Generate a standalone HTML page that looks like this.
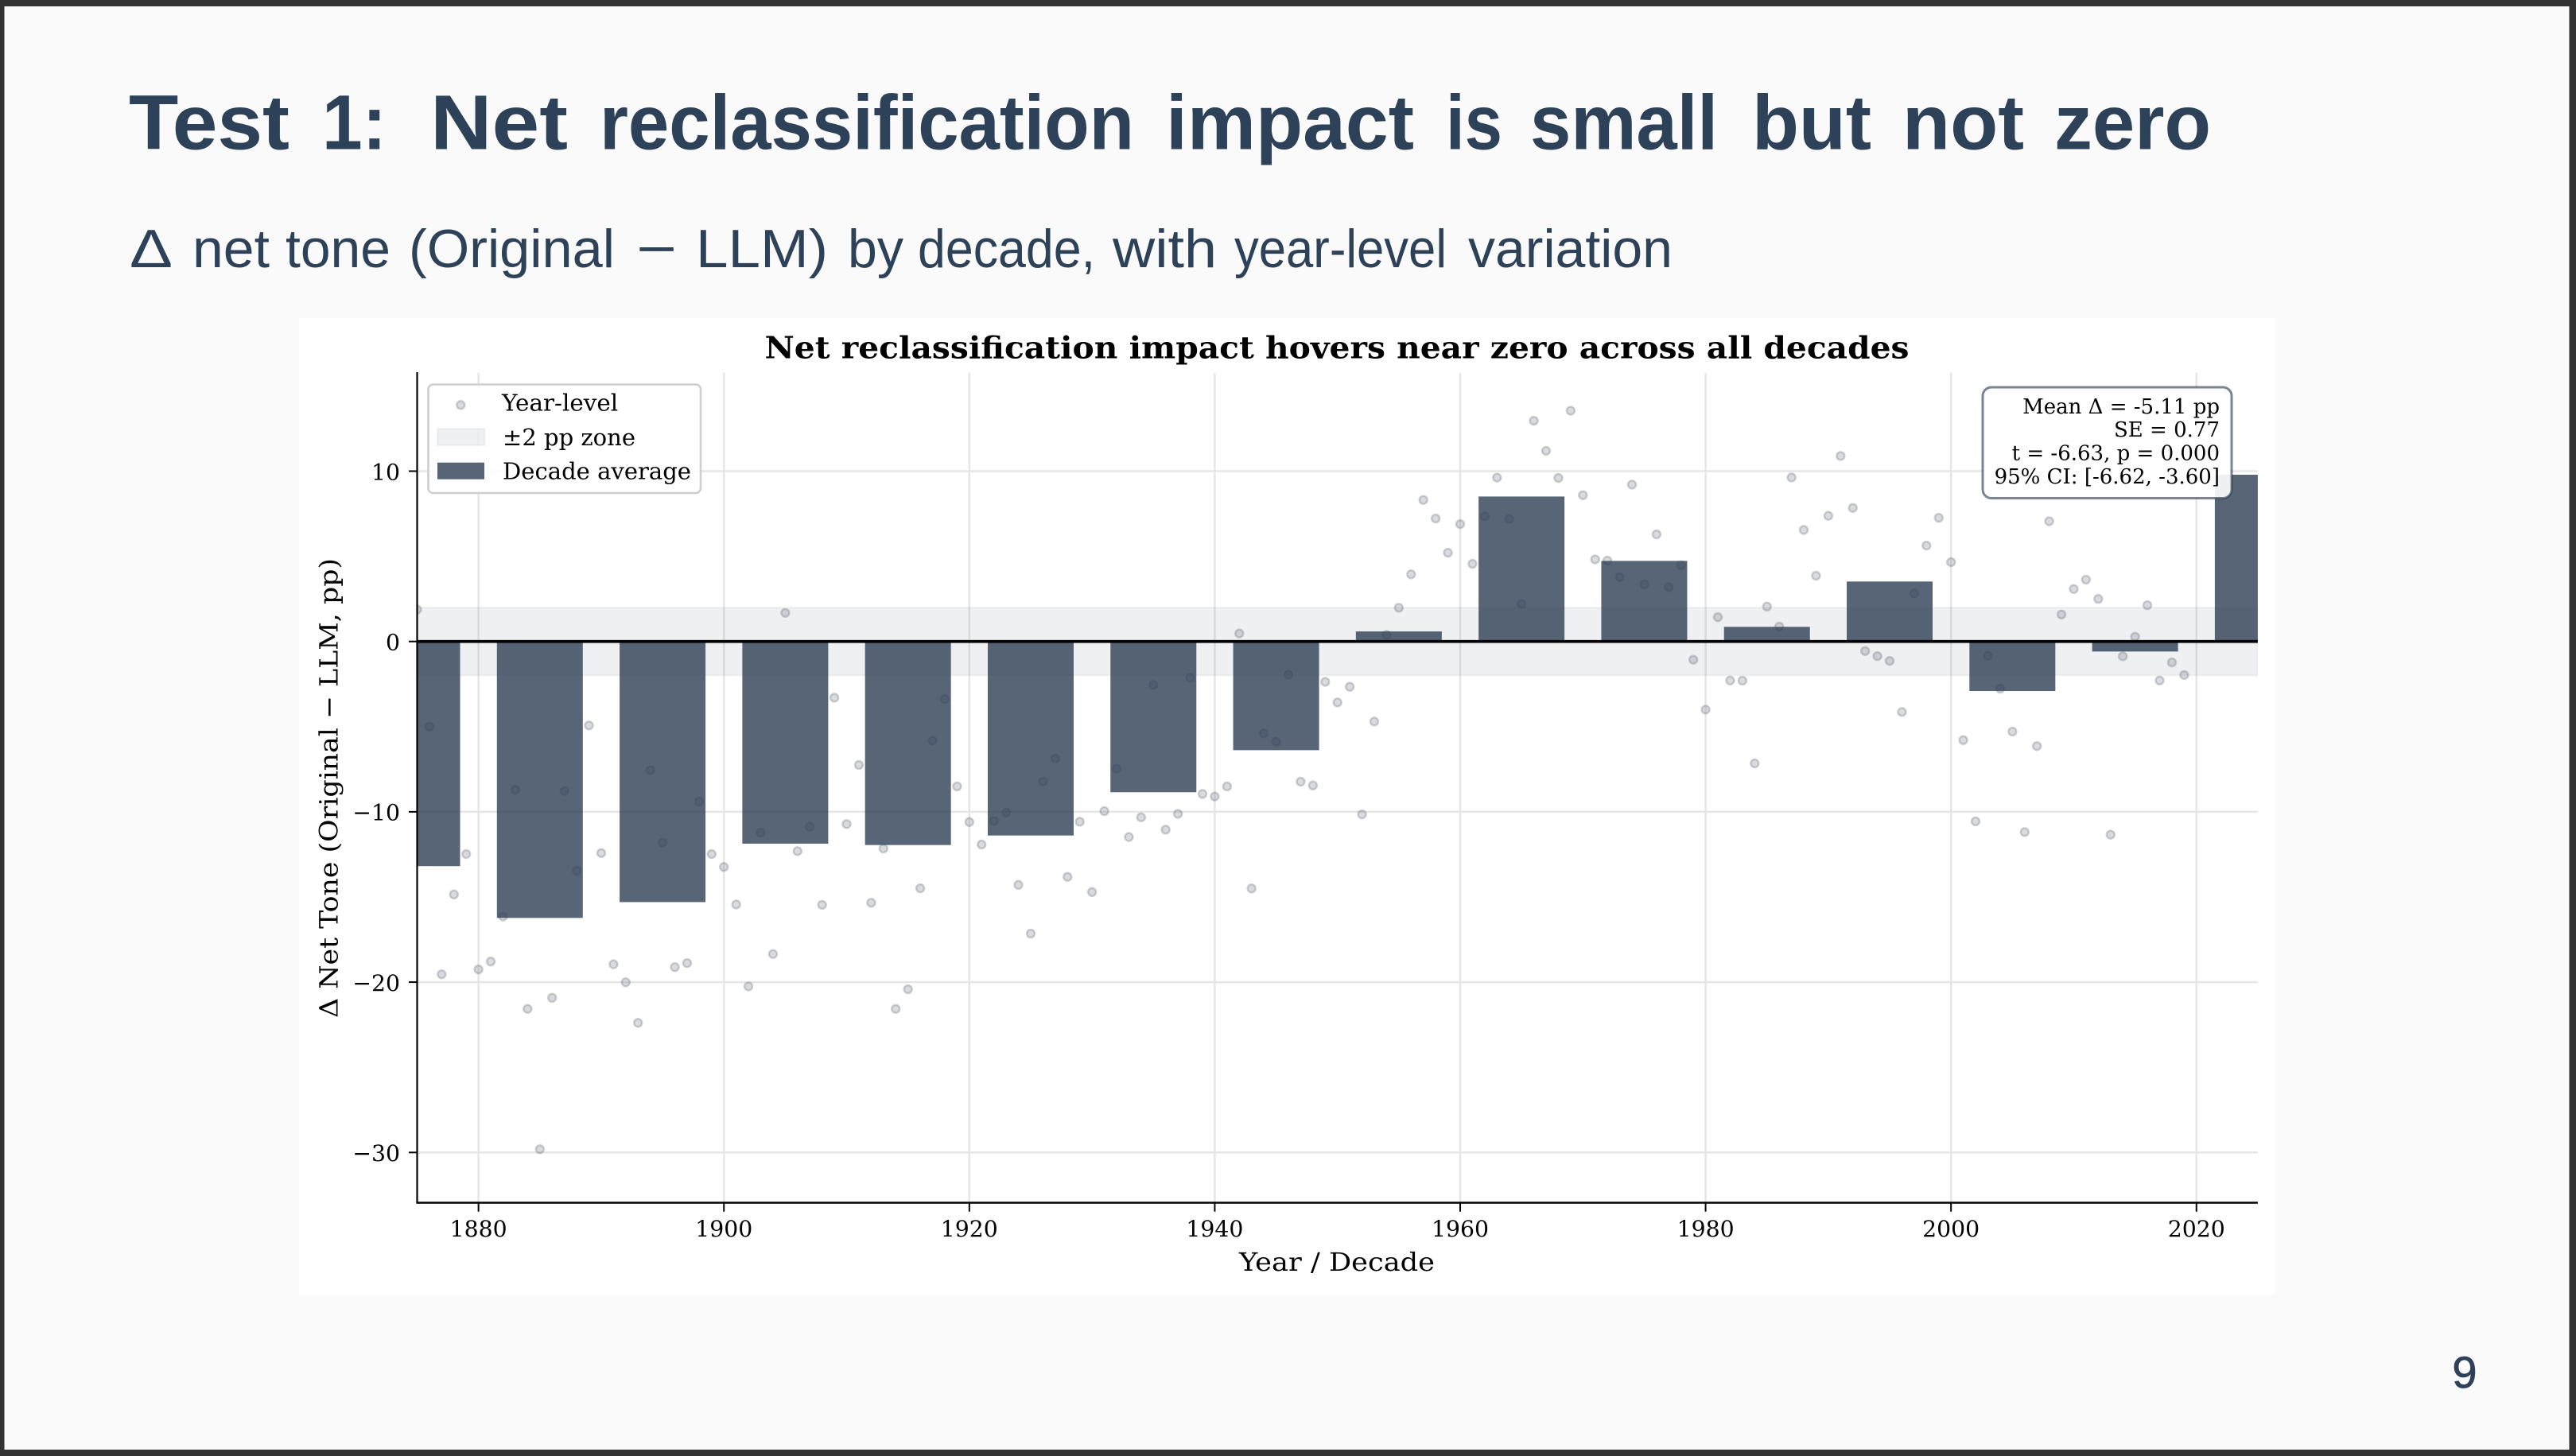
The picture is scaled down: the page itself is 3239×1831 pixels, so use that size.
<!DOCTYPE html>
<html lang="en">
<head>
<meta charset="utf-8">
<title>Test 1: Net reclassification impact is small but not zero</title>
<style>
html,body{margin:0;padding:0;background:#333333;}
body{width:3239px;height:1831px;overflow:hidden;}
svg{display:block;}
.serif{font-family:"DejaVu Serif","Liberation Serif",serif;fill:#000;}
.sans{font-family:"Liberation Sans","DejaVu Sans",sans-serif;fill:#2d4159;}
.hd{font-size:97px;font-weight:700;}
.sub{font-size:68px;}
</style>
</head>
<body>
<svg id="slide" xmlns="http://www.w3.org/2000/svg" width="3239" height="1831" viewBox="0 0 3239 1831">
  <defs>
    <clipPath id="plot-clip"><rect x="524.5" y="468" width="2314.4" height="1044.7"></rect></clipPath>
  </defs>
  <rect x="0" y="0" width="3239" height="1831" fill="#333333"></rect>
  <rect x="5.5" y="8" width="3225" height="1815" fill="#fafafa"></rect>

  <g>
    <text class="sans hd" x="162" y="187.5" textLength="202" lengthAdjust="spacingAndGlyphs">Test</text>
    <text class="sans hd" x="405" y="187.5" textLength="81" lengthAdjust="spacingAndGlyphs">1:</text>
    <text class="sans hd" x="541" y="187.5" textLength="173" lengthAdjust="spacingAndGlyphs">Net</text>
    <text class="sans hd" x="754" y="187.5" textLength="672" lengthAdjust="spacingAndGlyphs">reclassification</text>
    <text class="sans hd" x="1466" y="187.5" textLength="312" lengthAdjust="spacingAndGlyphs">impact</text>
    <text class="sans hd" x="1818" y="187.5" textLength="71" lengthAdjust="spacingAndGlyphs">is</text>
    <text class="sans hd" x="1924" y="187.5" textLength="236" lengthAdjust="spacingAndGlyphs">small</text>
    <text class="sans hd" x="2203" y="187.5" textLength="150" lengthAdjust="spacingAndGlyphs">but</text>
    <text class="sans hd" x="2392" y="187.5" textLength="153" lengthAdjust="spacingAndGlyphs">not</text>
    <text class="sans hd" x="2583" y="187.5" textLength="197" lengthAdjust="spacingAndGlyphs">zero</text>
  </g>
  <g>
    <text class="sans sub" x="163" y="336" textLength="54" lengthAdjust="spacingAndGlyphs">Δ</text>
    <text class="sans sub" x="242" y="336" textLength="97" lengthAdjust="spacingAndGlyphs">net</text>
    <text class="sans sub" x="359" y="336" textLength="132" lengthAdjust="spacingAndGlyphs">tone</text>
    <text class="sans sub" x="514" y="336" textLength="259" lengthAdjust="spacingAndGlyphs">(Original</text>
    <text class="sans sub" x="800" y="336" textLength="51" lengthAdjust="spacingAndGlyphs">−</text>
    <text class="sans sub" x="875" y="336" textLength="166" lengthAdjust="spacingAndGlyphs">LLM)</text>
    <text class="sans sub" x="1066" y="336" textLength="70" lengthAdjust="spacingAndGlyphs">by</text>
    <text class="sans sub" x="1154" y="336" textLength="223" lengthAdjust="spacingAndGlyphs">decade,</text>
    <text class="sans sub" x="1399" y="336" textLength="131" lengthAdjust="spacingAndGlyphs">with</text>
    <text class="sans sub" x="1552" y="336" textLength="267" lengthAdjust="spacingAndGlyphs">year-level</text>
    <text class="sans sub" x="1846" y="336" textLength="257" lengthAdjust="spacingAndGlyphs">variation</text>
  </g>
  <text class="sans" x="3099" y="1745" font-size="56" text-anchor="middle" stroke="#2d4159" stroke-width="0.8">9</text>

  <rect x="376" y="400" width="2484" height="1228" fill="#ffffff"></rect>
  <text class="serif" x="1681" y="450.5" font-size="38" font-weight="700" text-anchor="middle" textLength="1439" lengthAdjust="spacingAndGlyphs">Net reclassification impact hovers near zero across all decades</text>

  <g id="grid-layer"></g>
  <rect id="zone" fill="#2c3e50" fill-opacity="0.08" stroke="#2c3e50" stroke-opacity="0.04" stroke-width="2.5" clip-path="url(#plot-clip)"></rect>
  <g id="points-layer" clip-path="url(#plot-clip)"></g>
  <g id="bars-layer" clip-path="url(#plot-clip)"></g>
  <line id="zero-line" stroke="#000" stroke-width="3.6"></line>

  <line x1="524.5" y1="468" x2="524.5" y2="1513.5" stroke="#000" stroke-width="2.2"></line>
  <line x1="523.4" y1="1512.5" x2="2838.9" y2="1512.5" stroke="#000" stroke-width="2.4"></line>
  <g id="ticks-layer"></g>

  <text class="serif" x="1681" y="1598" font-size="32" text-anchor="middle" textLength="246" lengthAdjust="spacingAndGlyphs">Year / Decade</text>
  <text class="serif" x="0" y="0" font-size="32" text-anchor="middle" textLength="578" lengthAdjust="spacingAndGlyphs" transform="translate(424.5 991) rotate(-90)">Δ Net Tone (Original − LLM, pp)</text>

  <g>
    <rect x="538.5" y="483.5" width="342.5" height="136.5" rx="6" fill="#ffffff" fill-opacity="0.85" stroke="#cfcfcf" stroke-width="2.6"></rect>
    <circle cx="579.3" cy="509.3" r="5" fill="#646973" fill-opacity="0.24" stroke="#646973" stroke-opacity="0.3" stroke-width="2.5"></circle>
    <text class="serif" x="631.2" y="516.7" font-size="28.8" textLength="146" lengthAdjust="spacingAndGlyphs">Year-level</text>
    <rect x="550" y="539" width="59.5" height="21" fill="#2c3e50" fill-opacity="0.08" stroke="#2c3e50" stroke-opacity="0.04" stroke-width="2.5"></rect>
    <text class="serif" x="632" y="560" font-size="28.8" textLength="167" lengthAdjust="spacingAndGlyphs">±2 pp zone</text>
    <rect x="550" y="581.7" width="59" height="21" fill="#2e3e55" fill-opacity="0.8"></rect>
    <text class="serif" x="632" y="602.7" font-size="28.8" textLength="237" lengthAdjust="spacingAndGlyphs">Decade average</text>
  </g>

  <g>
    <rect x="2493" y="487" width="313" height="139.5" rx="11" fill="#ffffff" fill-opacity="0.9" stroke="#2c3e50" stroke-opacity="0.63" stroke-width="3"></rect>
    <text class="serif" x="2791" y="520" font-size="26" text-anchor="end">Mean Δ = -5.11 pp</text>
    <text class="serif" x="2791" y="549" font-size="26" text-anchor="end">SE = 0.77</text>
    <text class="serif" x="2791" y="578.5" font-size="26" text-anchor="end">t = -6.63, p = 0.000</text>
    <text class="serif" x="2791" y="608" font-size="26" text-anchor="end">95% CI: [-6.62, -3.60]</text>
  </g>
</svg>
<script>
const xTickValues = [1880, 1900, 1920, 1940, 1960, 1980, 2000, 2020];
const yTickValues = [-30, -20, -10, 0, 10];
const yTickLabels = ['−30', '−20', '−10', '0', '10'];

const decades = [1875, 1885, 1895, 1905, 1915, 1925, 1935, 1945, 1955, 1965, 1975, 1985, 1995, 2005, 2015, 2025];
const decadeAverages = [-13.19, -16.23, -15.30, -11.87, -11.95, -11.39, -8.85, -6.38, 0.59, 8.51, 4.73, 0.86, 3.52, -2.91, -0.59, 9.79];

const years = [
  1875, 1876, 1877, 1878, 1879, 1880, 1881, 1882, 1883, 1884, 1885, 1886, 1887, 1888, 1889,
  1890, 1891, 1892, 1893, 1894, 1895, 1896, 1897, 1898, 1899, 1900, 1901, 1902, 1903, 1904,
  1905, 1906, 1907, 1908, 1909, 1910, 1911, 1912, 1913, 1914, 1915, 1916, 1917, 1918, 1919,
  1920, 1921, 1922, 1923, 1924, 1925, 1926, 1927, 1928, 1929, 1930, 1931, 1932, 1933, 1934,
  1935, 1936, 1937, 1938, 1939, 1940, 1941, 1942, 1943, 1944, 1945, 1946, 1947, 1948, 1949,
  1950, 1951, 1952, 1953, 1954, 1955, 1956, 1957, 1958, 1959, 1960, 1961, 1962, 1963, 1964,
  1965, 1966, 1967, 1968, 1969, 1970, 1971, 1972, 1973, 1974, 1975, 1976, 1977, 1978, 1979,
  1980, 1981, 1982, 1983, 1984, 1985, 1986, 1987, 1988, 1989, 1990, 1991, 1992, 1993, 1994,
  1995, 1996, 1997, 1998, 1999, 2000, 2001, 2002, 2003, 2004, 2005, 2006, 2007, 2008, 2009,
  2010, 2011, 2012, 2013, 2014, 2015, 2016, 2017, 2018, 2019
];
const yearValues = [
  1.88, -5.00, -19.54, -14.85, -12.48, -19.25, -18.79, -16.15, -8.70, -21.57, -29.81, -20.92, -8.78, -13.46, -4.93,
  -12.42, -18.95, -20.01, -22.39, -7.56, -11.81, -19.12, -18.88, -9.40, -12.48, -13.24, -15.44, -20.25, -11.22, -18.35,
  1.68, -12.31, -10.88, -15.46, -3.30, -10.72, -7.25, -15.34, -12.15, -21.57, -20.42, -14.49, -5.82, -3.38, -8.51,
  -10.60, -11.92, -10.55, -10.04, -14.29, -17.15, -8.23, -6.88, -13.82, -10.58, -14.71, -9.96, -7.47, -11.48, -10.32,
  -2.55, -11.05, -10.12, -2.13, -8.95, -9.10, -8.51, 0.47, -14.50, -5.40, -5.88, -1.95, -8.23, -8.45, -2.37,
  -3.58, -2.66, -10.15, -4.70, 0.39, 1.98, 3.94, 8.31, 7.22, 5.21, 6.89, 4.56, 7.35, 9.62, 7.19,
  2.21, 12.96, 11.19, 9.60, 13.55, 8.59, 4.82, 4.75, 3.78, 9.21, 3.35, 6.29, 3.19, 4.48, -1.07,
  -4.00, 1.43, -2.29, -2.30, -7.16, 2.05, 0.87, 9.63, 6.55, 3.86, 7.38, 10.89, 7.84, -0.56, -0.86,
  -1.14, -4.14, 2.82, 5.63, 7.26, 4.66, -5.79, -10.56, -0.84, -2.77, -5.29, -11.19, -6.14, 7.06, 1.58,
  3.08, 3.63, 2.50, -11.34, -0.87, 0.28, 2.13, -2.29, -1.23, -1.97
];

const zoneHalfWidth = 2;
const barWidthYears = 7;
const xDomain = [1875, 2025];
const yDomain = [-32.96, 15.77];

const plot = { left: 524.5, right: 2838.9, top: 468.9, bottom: 1512.7 };

function xScale(year) {
  return plot.left + (year - xDomain[0]) / (xDomain[1] - xDomain[0]) * (plot.right - plot.left);
}
function yScale(value) {
  return plot.bottom - (value - yDomain[0]) / (yDomain[1] - yDomain[0]) * (plot.bottom - plot.top);
}

const NS = 'http://www.w3.org/2000/svg';
function make(tag, attrs, parent) {
  const node = document.createElementNS(NS, tag);
  for (const key in attrs) node.setAttribute(key, attrs[key]);
  parent.appendChild(node);
  return node;
}

const gridLayer = document.getElementById('grid-layer');
const ticksLayer = document.getElementById('ticks-layer');
const pointsLayer = document.getElementById('points-layer');
const barsLayer = document.getElementById('bars-layer');

xTickValues.forEach(function (tick) {
  const px = xScale(tick);
  const grid = make('line', { x1: px, x2: px, y1: plot.top, y2: plot.bottom, stroke: '#e6e6e6', 'stroke-width': 2.5 }, gridLayer);
  
  
  const mark = make('line', { x1: px, x2: px, y1: plot.bottom, y2: plot.bottom + 11, stroke: '#000', 'stroke-width': 2 }, ticksLayer);
  
  
  const label = make('text', { x: px, y: 1555, 'font-size': 28.3, 'text-anchor': 'middle', class: 'serif' }, ticksLayer);
  label.textContent = String(tick);
  
  
});

yTickValues.forEach(function (tick, i) {
  const py = yScale(tick);
  const grid = make('line', { x1: plot.left, x2: plot.right, y1: py, y2: py, stroke: '#e6e6e6', 'stroke-width': 2.5 }, gridLayer);
  
  
  const mark = make('line', { x1: plot.left - 10.5, x2: plot.left, y1: py, y2: py, stroke: '#000', 'stroke-width': 2 }, ticksLayer);
  
  
  const label = make('text', { x: 503, y: py + 10.8, 'font-size': 28.3, 'text-anchor': 'end', class: 'serif' }, ticksLayer);
  label.textContent = yTickLabels[i];
  
  
});

const zone = document.getElementById('zone');
zone.setAttribute('x', xScale(xDomain[0]));
zone.setAttribute('width', xScale(xDomain[1]) - xScale(xDomain[0]));
zone.setAttribute('y', yScale(zoneHalfWidth));
zone.setAttribute('height', yScale(-zoneHalfWidth) - yScale(zoneHalfWidth));

years.forEach(function (year, i) {
  const dot = make('circle', {
    cx: xScale(year), cy: yScale(yearValues[i]), r: 5,
    fill: '#646973', 'fill-opacity': 0.24,
    stroke: '#646973', 'stroke-opacity': 0.3, 'stroke-width': 2.5
  }, pointsLayer);
  
  
});

decades.forEach(function (decade, i) {
  const value = decadeAverages[i];
  const x0 = xScale(decade - barWidthYears / 2);
  const x1 = xScale(decade + barWidthYears / 2);
  const y0 = yScale(Math.max(value, 0));
  const y1 = yScale(Math.min(value, 0));
  const bar = make('rect', { x: x0, y: y0, width: x1 - x0, height: y1 - y0, fill: '#2e3e55', 'fill-opacity': 0.8 }, barsLayer);
  
  
});

const zeroLine = document.getElementById('zero-line');
zeroLine.setAttribute('x1', plot.left);
zeroLine.setAttribute('x2', plot.right);
zeroLine.setAttribute('y1', yScale(0));
zeroLine.setAttribute('y2', yScale(0));
</script>
</body>
</html>
